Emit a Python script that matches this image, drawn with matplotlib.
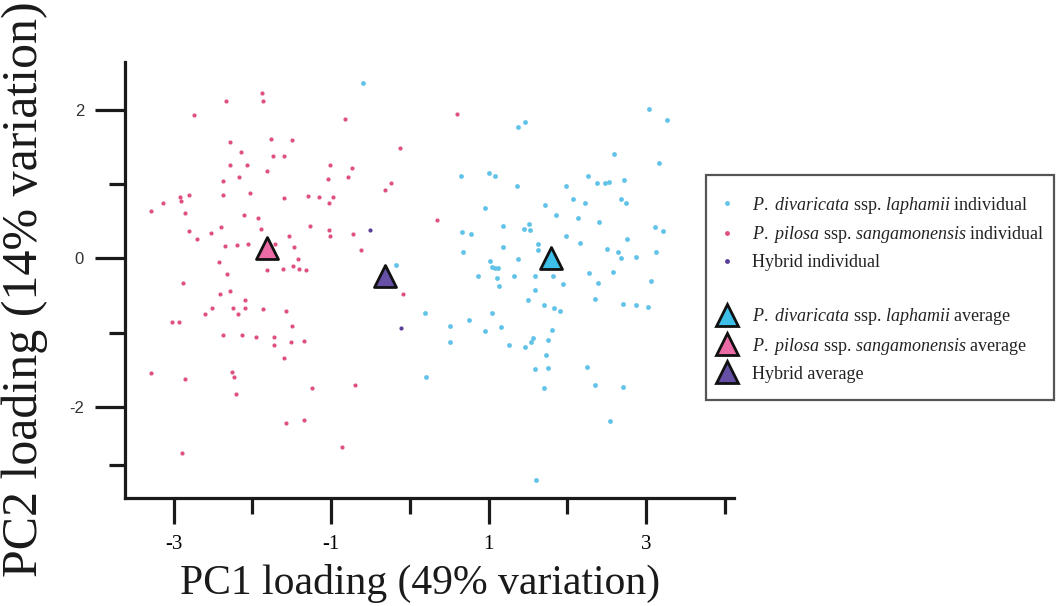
import matplotlib
matplotlib.use("Agg")
import numpy as np
import matplotlib.pyplot as plt
from matplotlib.lines import Line2D
from matplotlib.patches import Rectangle

plt.rcParams['mathtext.fontset'] = 'custom'
plt.rcParams['mathtext.rm'] = 'Liberation Serif'
plt.rcParams['mathtext.it'] = 'Liberation Serif:italic'

# PC scores (PC1, PC2)
pilosa_pc1 = [-1.88, -1.86, -2.34, -2.74, -0.82, -0.13, -2.28, -1.77, -1.50, -2.14,
              -1.74, -1.60, -2.28, -2.07, -1.82, -1.01, -0.74, -2.17, -2.37, -1.04,
              -0.78, -0.24, -0.32, -2.81, -2.92, -2.91, -3.14, -3.29, -2.37, -2.03,
              -1.60, -1.29, -1.16, -0.98, -1.03, -2.86, -2.11, -1.93, 0.34, -2.81,
              -2.53, -2.40, -1.89, -1.27, -1.03, -1.01, -0.72, -2.71, -1.54, -2.35,
              -2.20, -2.06, -1.71, -1.47, -0.62, -2.42, -1.42, -1.48, -1.41, -1.32,
              -1.61, -1.81, -2.32, 0.60, -2.88, -0.09, -2.41, -2.29, -2.09, -2.52,
              -2.25, -2.09, -1.87, -1.58, -2.60, -2.18, -3.02, -2.93, -1.50, -2.37,
              -2.13, -1.96, -1.73, -1.72, -1.51, -1.35, -1.60, -3.29, -2.86, -2.26,
              -2.24, -2.21, -1.24, -0.70, -1.58, -1.34, -2.90, -0.86]
pilosa_pc2 = [2.22, 2.11, 2.12, 1.93, 1.87, 1.49, 1.57, 1.61, 1.59, 1.43,
              1.37, 1.37, 1.25, 1.25, 1.17, 1.26, 1.22, 1.10, 1.04, 1.07,
              1.09, 1.02, 0.92, 0.85, 0.82, 0.77, 0.75, 0.64, 0.85, 0.88,
              0.81, 0.84, 0.82, 0.82, 0.74, 0.61, 0.59, 0.55, 0.51, 0.37,
              0.34, 0.42, 0.39, 0.43, 0.38, 0.30, 0.33, 0.26, 0.30, 0.17,
              0.18, 0.20, 0.20, 0.15, 0.11, -0.05, -0.01, -0.10, -0.14, -0.16,
              -0.14, -0.16, -0.21, 1.94, -0.33, -0.48, -0.48, -0.44, -0.56, -0.67,
              -0.67, -0.67, -0.68, -0.70, -0.75, -0.75, -0.85, -0.85, -0.91, -1.03,
              -1.03, -1.05, -1.05, -1.17, -1.13, -1.11, -1.34, -1.54, -1.62, -1.52,
              -1.60, -1.82, -1.74, -1.70, -2.21, -2.17, -2.62, -2.54]

divaricata_pc1 = [-0.59, -0.17, 0.19, 0.51, 0.51, 0.21,
                  3.04, 3.27, 1.38, 1.47, 2.60, 3.17, 0.65, 1.01, 1.08, 1.36, 2.26, 1.98,
                  2.38, 2.48, 2.53, 2.72, 0.95, 1.72, 2.07, 2.22, 2.68, 2.75, 1.86, 2.14,
                  2.41, 3.11, 3.22, 0.66, 0.78, 1.18, 1.51, 1.45, 1.53, 1.98, 2.16, 2.76,
                  0.68, 1.19, 1.63, 1.63, 2.50, 2.65, 2.68, 2.88, 3.13, 1.37, 1.02, 1.05,
                  1.08, 1.12, 0.87, 1.11, 1.32, 1.59, 1.82, 2.28, 2.58,
                  1.13, 1.59, 1.95, 2.39, 3.07, 1.05, 1.50, 1.71, 1.83, 1.91, 2.35, 2.71,
                  2.87, 3.03, 0.75, 0.95, 1.16, 1.26, 1.46, 1.54, 1.56, 1.81, 1.76, 1.73,
                  1.59, 1.75, 1.71, 2.25, 2.35, 2.71, 2.54, 1.60]
divaricata_pc2 = [2.36, -0.09, -0.73, -0.91, -1.12, -1.60,
                  2.01, 1.86, 1.77, 1.83, 1.41, 1.28, 1.11, 1.15, 1.11, 0.97, 1.11, 0.97,
                  1.01, 1.02, 1.03, 1.05, 0.68, 0.72, 0.80, 0.75, 0.80, 0.74, 0.59, 0.55,
                  0.49, 0.42, 0.37, 0.35, 0.33, 0.43, 0.46, 0.39, 0.38, 0.30, 0.21, 0.26,
                  0.09, 0.16, 0.19, 0.11, 0.13, 0.09, 0.01, 0.02, 0.09, -0.01, -0.04, -0.11,
                  -0.13, -0.13, -0.24, -0.26, -0.24, -0.23, -0.24, -0.20, -0.18,
                  -0.37, -0.43, -0.34, -0.33, -0.31, -0.73, -0.56, -0.62, -0.66, -0.70, -0.55, -0.61,
                  -0.62, -0.65, -0.83, -0.98, -0.92, -1.16, -1.19, -1.12, -1.07, -0.96, -1.09, -1.30,
                  -1.48, -1.47, -1.74, -1.46, -1.70, -1.73, -2.19, -2.98]

hybrid_pc1 = [-0.51, -0.11]
hybrid_pc2 = [0.38, -0.94]

# group averages
avg_pc1 = [1.79, -1.81, -0.31]
avg_pc2 = [0.01, 0.14, -0.235]

blue_dot = '#62C3E8'
pink_dot = '#E0507F'
purple_dot = '#5A3F98'
avg_colors = ['#3DBFE9', '#EA6BA5', '#6650A6']

serif = 'Liberation Serif'
W, H = 1058, 606

fig = plt.figure(figsize=(W / 100, H / 100), dpi=100)
ax = fig.add_axes([125 / W, 1 - 498 / H, 609 / W, 436 / H])

ax.scatter(divaricata_pc1, divaricata_pc2, s=12, color=blue_dot, linewidths=0, zorder=2)
ax.scatter(pilosa_pc1, pilosa_pc2, s=9, color=pink_dot, linewidths=0, zorder=2)
ax.scatter(hybrid_pc1, hybrid_pc2, s=9, color=purple_dot, linewidths=0, zorder=2)
for x, y, c in zip(avg_pc1, avg_pc2, avg_colors):
    ax.scatter([x], [y], marker='^', s=250, color=c, edgecolors='#111111',
               linewidths=2.0, zorder=3)

ax.set_xlim(-3.62, 4.12)
ax.set_ylim(-3.22, 2.64)

for side in ['top', 'right']:
    ax.spines[side].set_visible(False)
for side in ['left', 'bottom']:
    ax.spines[side].set_linewidth(2.3)
    ax.spines[side].set_color('#1a1a1a')

ax.set_xticks([-3, -1, 1, 3])
ax.set_xticklabels(['-3', '-1', '1', '3'], family=serif, fontsize=15)
ax.set_xticks([-2, 0, 2, 4], minor=True)
ax.set_yticks([-2, 0, 2])
ax.set_yticklabels(['-2', '0', '2'], family='Liberation Sans', fontsize=12, color='#333333')
ax.set_yticks([-2.77, -1, 1], minor=True)
ax.tick_params(axis='x', which='major', length=18.5, width=2.3, color='#1a1a1a', pad=8)
ax.tick_params(axis='x', which='minor', length=11.5, width=2.3, color='#1a1a1a')
ax.tick_params(axis='y', which='major', length=21.5, width=2.3, color='#1a1a1a', pad=8)
ax.tick_params(axis='y', which='minor', length=11.5, width=2.3, color='#1a1a1a')

fig.text(420 / W, 1 - 594 / H, 'PC1 loading (49% variation)', family=serif,
         fontsize=30, ha='center', va='baseline', color='#1a1a1a')
fig.text(25 / W, 1 - 289 / H, 'PC2 loading (14% variation)', family=serif,
         fontsize=36, rotation=90, ha='center', va='center', color='#1a1a1a')

handles = [
    Line2D([], [], ls='none', marker='o', ms=3.5, mfc=blue_dot, mec='none'),
    Line2D([], [], ls='none', marker='o', ms=3.5, mfc=pink_dot, mec='none'),
    Line2D([], [], ls='none', marker='o', ms=3.5, mfc=purple_dot, mec='none'),
    Line2D([], [], ls='none', marker=None),
    Line2D([], [], ls='none', marker='^', ms=15.5, mfc=avg_colors[0], mec='#111111', mew=2.0),
    Line2D([], [], ls='none', marker='^', ms=15.5, mfc=avg_colors[1], mec='#111111', mew=2.0),
    Line2D([], [], ls='none', marker='^', ms=15.5, mfc=avg_colors[2], mec='#111111', mew=2.0),
]
labels = [
    r'$\mathit{P.}$ $\mathit{divaricata}$ ssp. $\mathit{laphamii}$ individual',
    r'$\mathit{P.}$ $\mathit{pilosa}$ ssp. $\mathit{sangamonensis}$ individual',
    'Hybrid individual',
    '',
    r'$\mathit{P.}$ $\mathit{divaricata}$ ssp. $\mathit{laphamii}$ average',
    r'$\mathit{P.}$ $\mathit{pilosa}$ ssp. $\mathit{sangamonensis}$ average',
    'Hybrid average',
]
leg = fig.legend(handles, labels, loc='upper left', bbox_to_anchor=(721.5 / W, 1 - 194.5 / H),
                 frameon=False, prop={'family': serif, 'size': 13}, borderpad=0,
                 borderaxespad=0, handlelength=0.6, handletextpad=1.1, labelspacing=0.49)
for t in leg.get_texts():
    t.set_color('#222222')

# legend box drawn separately (tight on the right, as in the original)
fig.patches.append(Rectangle((706 / W, 1 - 400 / H), 348 / W, 225 / H, transform=fig.transFigure,
                             fill=False, edgecolor='#555555', linewidth=1.6))

fig.savefig('out.png', dpi=100)
